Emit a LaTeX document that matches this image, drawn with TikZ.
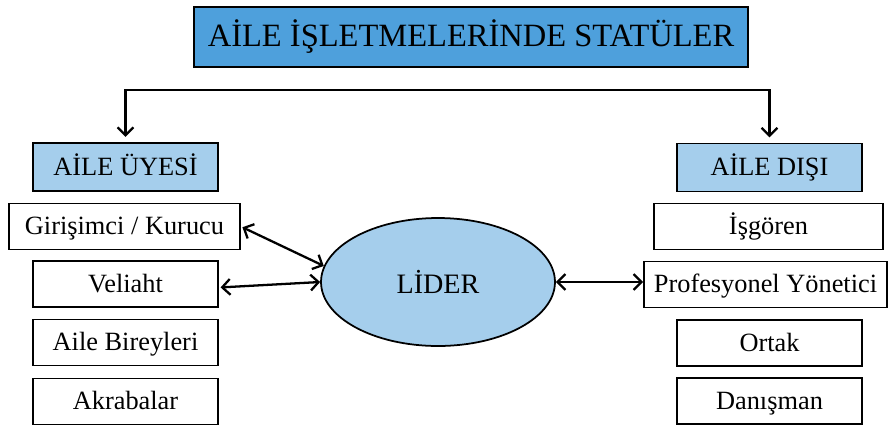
\documentclass[tikz,border=0pt]{standalone}
\usepackage{fontspec}
\setmainfont{Liberation Serif}
\usetikzlibrary{arrows.meta,calc,shapes}
\definecolor{koyumavi}{RGB}{78,160,220}
\definecolor{acikmavi}{RGB}{165,206,236}
\begin{document}
\begin{tikzpicture}[x=.02cm,y=-.02cm,
kutu/.style={draw,line width=1pt,inner sep=0pt,minimum height=.92cm,text height=12pt,text depth=2.5pt,font=\fontsize{15}{17}\selectfont},
baslik/.style={kutu,fill=acikmavi},
ok/.style={{Straight Barb[length=4.5pt,width=9pt]}-{Straight Barb[length=4.5pt,width=9pt]},line width=1.3pt}]
\useasboundingbox(0,0)rectangle(889,427);
\node[draw,fill=koyumavi,line width=.8pt,minimum width=11.08cm,minimum height=1.2cm,font=\fontsize{18.5}{22}\selectfont](ana)at(471,37){AİLE İŞLETMELERİNDE STATÜLER};
\node[baslik,minimum width=3.7cm,minimum height=.96cm](uye)at(125.5,167){AİLE ÜYESİ};\node[baslik,minimum width=3.7cm,minimum height=.96cm](disi)at(769.5,167.5){AİLE DIŞI};
\node[kutu,minimum width=4.62cm](giri)at(124.5,226.5){Girişimci / Kurucu};\node[kutu,minimum width=3.7cm](veli)at(125.5,284){Veliaht};
\node[kutu,minimum width=3.7cm](bire)at(125.5,342.5){Aile Bireyleri};\node[kutu,minimum width=3.7cm](akra)at(125.5,401.5){Akrabalar};
\node[kutu,minimum width=4.58cm](isg)at(768.5,226.5){İşgören};\node[kutu,minimum width=4.86cm](prof)at(765.5,284.5){Profesyonel Yönetici};
\node[kutu,minimum width=3.7cm](ort)at(769.5,343){Ortak};\node[kutu,minimum width=3.7cm](dan)at(769.5,401){Danışman};
\node[ellipse,draw,fill=acikmavi,line width=1pt,minimum width=4.68cm,minimum height=2.56cm,font=\fontsize{16}{18}\selectfont](lider)at(438,282){LİDER};
\coordinate(cizgi)at(471,90);
\draw[ok,shorten <=3pt,shorten >=3pt](uye.north)|-(cizgi)-|(disi.north);
\draw[ok,shorten <=1pt](giri.east)--(lider.172);\draw[ok,shorten <=1pt]([yshift=-2pt]veli.east)--(lider.west);
\draw[ok](lider.east)--(lider.east-|prof.west);
\end{tikzpicture}
\end{document}
